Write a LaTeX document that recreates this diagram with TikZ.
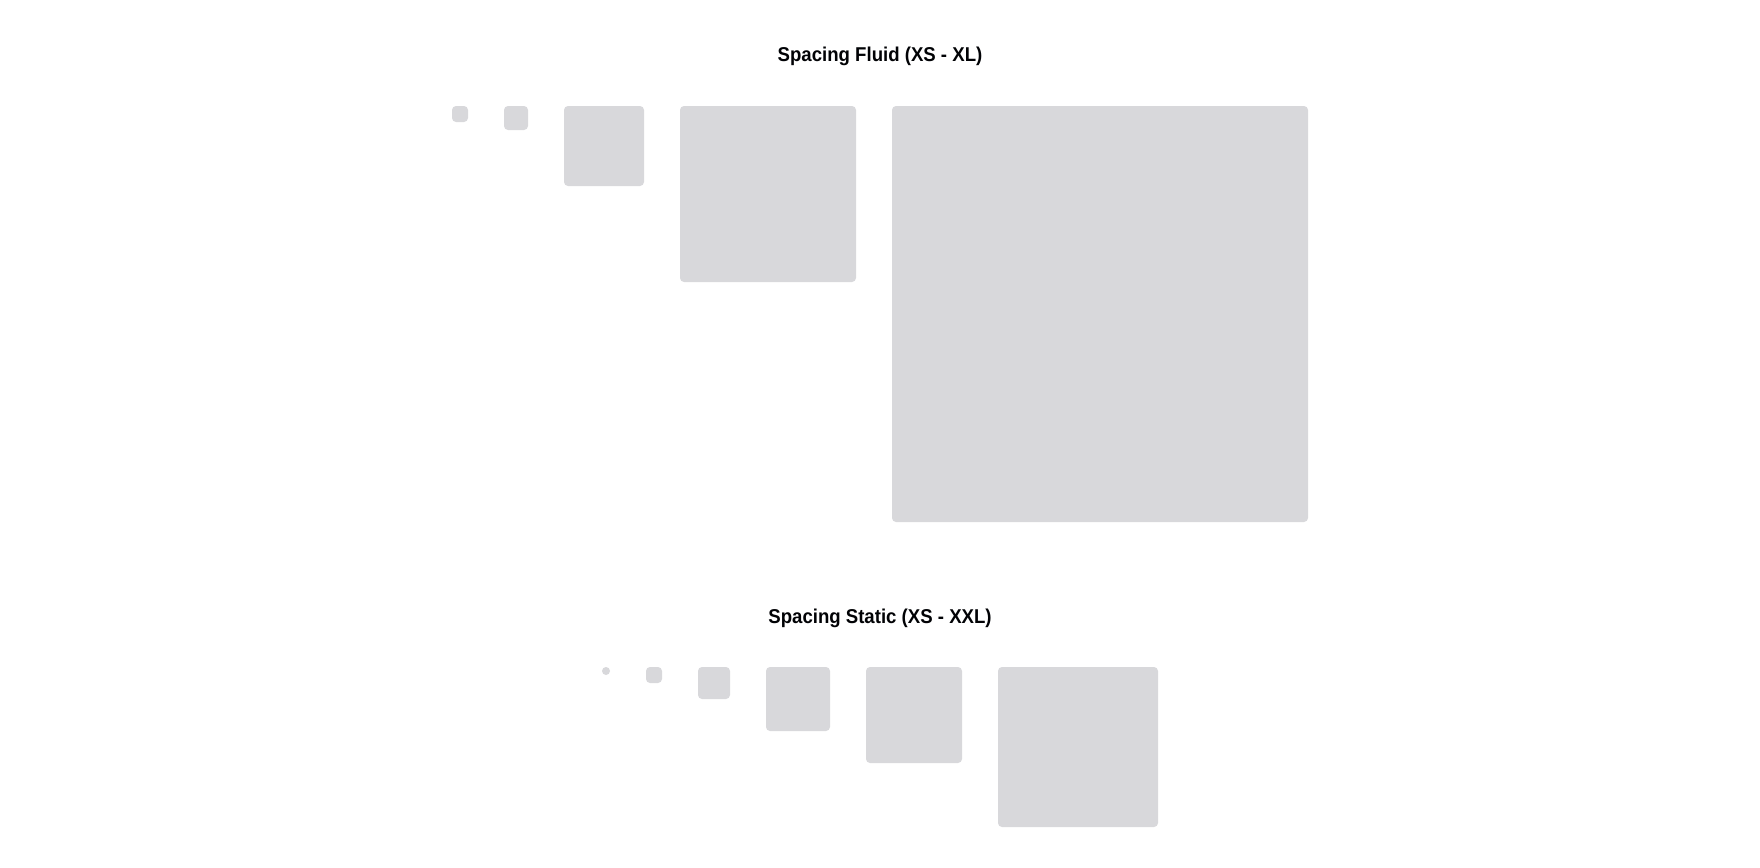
\documentclass[tikz,border=0pt]{standalone}
\usepackage{fontspec}
\setmainfont{Liberation Sans}[FakeStretch=0.93]
\usepackage{tikz}
\usetikzlibrary{positioning}
\definecolor{tilegray}{RGB}{216,216,219}
\definecolor{inkblack}{RGB}{1,2,5}

\begin{document}
\begin{tikzpicture}[x=1pt,y=-1pt, tile/.style={fill=tilegray,rounded corners=4pt,inner sep=0pt,outer sep=0pt,minimum size=#1}, title/.style={text=inkblack,font=\bfseries\fontsize{20}{24}\selectfont,anchor=base,inner sep=0pt}]
\useasboundingbox (0,0) rectangle (1760,867);
% fluid scale
\node[title] (fluidtitle) at (880,62) {Spacing Fluid (XS - XL)};
\node[tile=16pt,anchor=north west] (fxs) at (452,106) {};
\node[tile=24pt,below right=0pt and 36pt of fxs.north east] (fs) {};
\node[tile=80pt,below right=0pt and 36pt of fs.north east] (fm) {};
\node[tile=176pt,below right=0pt and 36pt of fm.north east] (fl) {};
\node[tile=416pt,below right=0pt and 36pt of fl.north east] (fxl) {};
% static scale
\node[title] (statictitle) at (880,623) {Spacing Static (XS - XXL)};
\node[tile=8pt,anchor=north west] (sxs) at (602,667) {};
\node[tile=16pt,below right=0pt and 36pt of sxs.north east] (ss) {};
\node[tile=32pt,below right=0pt and 36pt of ss.north east] (sm) {};
\node[tile=64pt,below right=0pt and 36pt of sm.north east] (sl) {};
\node[tile=96pt,below right=0pt and 36pt of sl.north east] (sxl) {};
\node[tile=160pt,below right=0pt and 36pt of sxl.north east] (sxxl) {};
\end{tikzpicture}
\end{document}
